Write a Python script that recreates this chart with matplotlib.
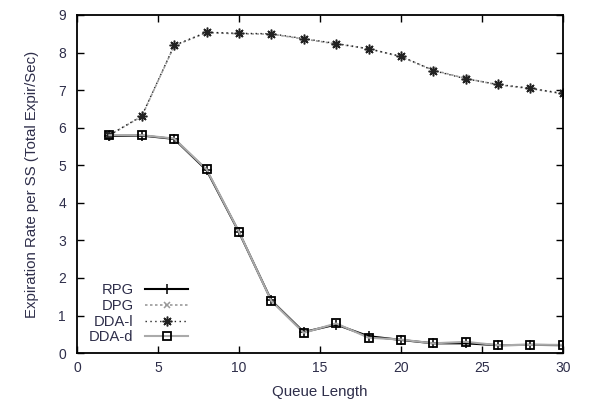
import numpy as np
import matplotlib
matplotlib.use("Agg")
import matplotlib.pyplot as plt

queue_length = [2, 4, 6, 8, 10, 12, 14, 16, 18, 20, 22, 24, 26, 28, 30]

rpg = [5.78, 5.79, 5.70, 4.87, 3.22, 1.40, 0.56, 0.76, 0.45, 0.35, 0.26, 0.26, 0.21, 0.22, 0.21]
dpg = [5.80, 6.30, 8.18, 8.53, 8.50, 8.49, 8.36, 8.23, 8.10, 7.89, 7.53, 7.31, 7.14, 7.04, 6.90]
dda_l = [5.80, 6.31, 8.19, 8.54, 8.51, 8.50, 8.37, 8.24, 8.10, 7.90, 7.52, 7.30, 7.15, 7.05, 6.91]
dda_d = [5.80, 5.80, 5.71, 4.89, 3.23, 1.39, 0.54, 0.79, 0.41, 0.36, 0.26, 0.30, 0.21, 0.22, 0.22]

txt_color = "#2e2e4a"

plt.rcParams["font.family"] = ["Liberation Sans", "DejaVu Sans"]
plt.rcParams["font.size"] = 10

fig = plt.figure(figsize=(5.9, 4.04), dpi=100)
ax = fig.add_axes([0.1305, 0.126, 0.8235, 0.837])

ax.plot(queue_length, rpg, color="black", lw=1.5, marker="+", ms=7, mew=1.1, label="RPG")
ax.plot(queue_length, dpg, color="#999999", lw=1.2, ls=(0, (1.5, 1.5)), marker="x", ms=5, mew=1.1, label="DPG")
ax.plot(queue_length, dda_l, color="#222222", lw=1.0, ls=(0, (1, 2.5)), marker=(8, 2, 0), ms=7, mew=1.1, label="DDA-l")
ax.plot(queue_length, dda_d, color="#aaaaaa", lw=1.5, marker="s", ms=6, mfc="none", mec="black", mew=1.3, label="DDA-d")

ax.set_xlim(0, 30)
ax.set_ylim(0, 9)
ax.set_xticks(np.arange(0, 31, 5))
ax.set_yticks(np.arange(0, 10, 1))
ax.tick_params(direction="in", length=5, width=1, top=True, right=True, colors="black",
               labelcolor=txt_color, labelsize=10, pad=6)
ax.tick_params(axis="y", pad=8)
for s in ax.spines.values():
    s.set_linewidth(1.3)

ax.set_xlabel("Queue Length", color=txt_color, fontsize=10.8, labelpad=7)
ax.set_ylabel("Expiration Rate per SS (Total Expir/Sec)", color=txt_color, fontsize=10.8, labelpad=14)

leg = ax.legend(loc="lower right", bbox_to_anchor=(0.25, -0.005), frameon=False, markerfirst=False,
                handlelength=2.9, handletextpad=0.8, labelspacing=0.12, borderpad=0.2,
                fontsize=10.6)
for t in leg.get_texts():
    t.set_color(txt_color)

fig.savefig("out.png", dpi=100)
